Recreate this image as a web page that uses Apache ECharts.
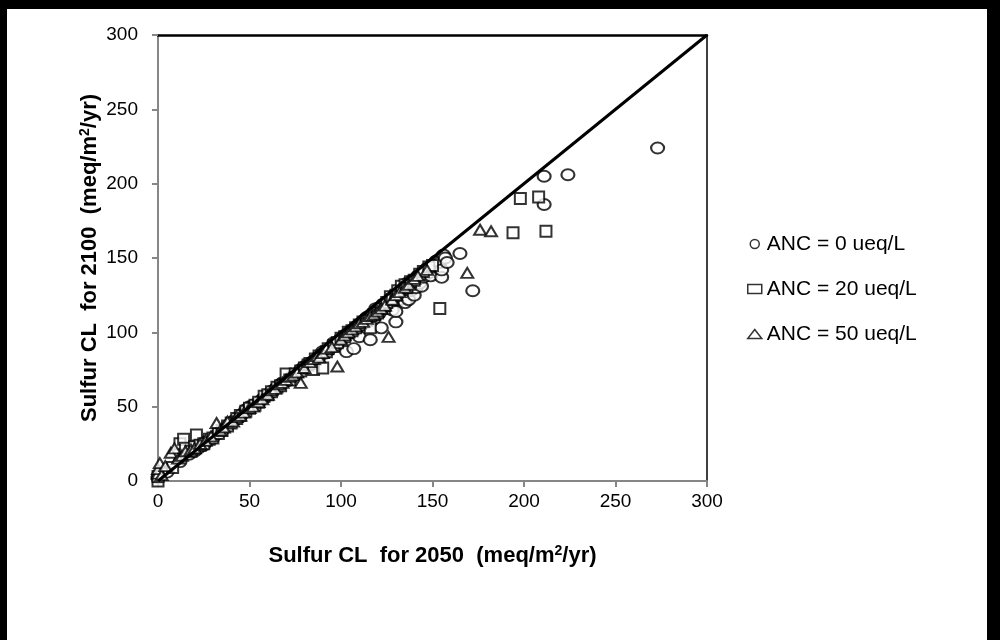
<!DOCTYPE html>
<html>
<head>
<meta charset="utf-8">
<script src="https://cdn.jsdelivr.net/npm/echarts@6/dist/echarts.min.js"></script>
<style>
html,body{margin:0;padding:0;background:#fff;}
#c{width:1000px;height:640px;}
</style>
</head>
<body>
<div id="c"></div>
<script>
// ---- data (x = Sulfur CL 2050, y = Sulfur CL 2100) ----
const seriesNames = ['ANC = 0 ueq/L', 'ANC = 20 ueq/L', 'ANC = 50 ueq/L'];
const axisTicks = [0, 50, 100, 150, 200, 250, 300];
const anc0 = [
  [0,2],[5,6],[12,13],[17,18],[20,20],[22,22],[25,24],[27,27],[30,29],[33,32],[35,34],[38,37],
  [40,39],[42,41],[44,43],[46,45],[48,48],[50,50],[52,51],[55,53],[57,55],[58,56],[60,58],
  [62,60],[63,61],[65,63],[67,65],[68,66],[70,67],[72,69],[74,71],[75,72],[77,73],[78,75],
  [80,77],[82,78],[84,80],[85,80],[87,82],[88,84],[90,87],[91,86],[93,88],[95,90],[96,93],
  [98,92],[100,96],[102,98],[103,87],[104,99],[106,101],[107,89],[108,102],[110,97],[111,105],
  [112,106],[114,110],[115,108],[116,95],[117,112],[118,109],[119,116],[120,114],[121,113],
  [122,103],[123,119],[124,117],[126,118],[127,121],[128,115],[129,125],[130,107],[130,114],
  [132,122],[133,127],[135,120],[136,133],[137,122],[138,128],[139,135],[140,125],[141,130],
  [142,138],[143,133],[144,131],[145,137],[146,141],[147,143],[148,140],[149,138],[150,145],
  [152,148],[154,147],[155,137],[155,142],[156,152],[157,150],[158,147],[165,153],[172,128],
  [211,205],[224,206],[211,186],[273,224]
];
const anc20 = [
  [0,0],[0,3],[8,9],[12,25],[14,28],[15,22],[18,20],[20,23],[21,31],[23,24],[25,25],[28,28],
  [30,29],[33,32],[35,34],[38,37],[40,39],[43,42],[45,44],[48,47],[50,49],[53,51],[55,53],
  [58,57],[60,58],[62,60],[65,63],[67,64],[70,72],[72,68],[75,72],[78,74],[80,76],[82,78],
  [83,79],[85,75],[86,82],[88,84],[90,76],[92,87],[93,89],[96,91],[98,93],[100,96],[102,97],
  [104,100],[106,101],[108,103],[110,105],[112,107],[114,108],[116,103],[118,112],[120,113],
  [122,116],[124,118],[125,120],[127,124],[128,122],[130,125],[131,128],[133,131],[135,132],
  [136,130],[138,134],[140,135],[143,139],[145,141],[148,144],[150,145],[154,116],
  [194,167],[198,190],[208,191],[212,168]
];
const anc50 = [
  [0,5],[0,8],[1,12],[2,4],[4,10],[7,19],[9,22],[11,15],[13,17],[15,20],[18,21],[20,22],
  [23,25],[26,27],[29,30],[32,39],[34,34],[36,36],[38,40],[41,40],[43,43],[45,44],[47,46],
  [50,49],[52,50],[55,53],[57,55],[60,58],[62,61],[64,62],[66,65],[68,66],[70,68],[72,70],
  [74,71],[76,73],[78,66],[80,76],[83,80],[85,82],[87,84],[88,83],[90,86],[92,89],[95,90],
  [98,77],[100,95],[102,98],[104,100],[106,102],[108,104],[110,106],[112,107],[114,109],
  [116,111],[118,112],[120,114],[122,116],[124,118],[126,97],[128,122],[130,125],[132,127],
  [135,130],[137,132],[140,136],[142,138],[147,142],[169,140],[176,169],[182,168]
];
const oneToOne = [[0,0],[300,300]];

const chart = echarts.init(document.getElementById('c'));
const font = '"Liberation Sans", Arial, sans-serif';
const gray = '#868686';
const mk = (name, data, symbol, size) => ({
  name, type: 'scatter', data, symbol, symbolSize: size,
  itemStyle: { color: '#fff', borderColor: '#000', borderWidth: 2 },
  z: 3
});
const titleRich = {
  b: { fontSize: 22, fontWeight: 'bold', color: '#000', fontFamily: font },
  s: { fontSize: 14, fontWeight: 'bold', color: '#000', fontFamily: font, padding: [0, 0, 9, 0] }
};
chart.setOption({
  animation: false,
  backgroundColor: '#fff',
  textStyle: { fontFamily: font },
  graphic: [
    { type: 'rect', shape: { x: 0, y: 0, width: 7, height: 640 }, style: { fill: '#000' }, z: 100 },
    { type: 'rect', shape: { x: 0, y: 0, width: 1000, height: 9 }, style: { fill: '#000' }, z: 100 },
    { type: 'rect', shape: { x: 987, y: 0, width: 13, height: 640 }, style: { fill: '#000' }, z: 100 }
  ],
  grid: { left: 158, right: 293, top: 35, bottom: 159 },
  legend: {
    orient: 'vertical', left: 742, top: 228,
    itemWidth: 14, itemHeight: 9, itemGap: 23,
    textStyle: { fontSize: 21, color: '#000', fontFamily: font, lineHeight: 22 },
    data: [
      { name: seriesNames[0], icon: 'circle', itemStyle: { color: '#fff', borderColor: '#000', borderWidth: 1.5 } },
      { name: seriesNames[1], icon: 'rect', itemStyle: { color: '#fff', borderColor: '#000', borderWidth: 1.5 } },
      { name: seriesNames[2], icon: 'triangle', itemStyle: { color: '#fff', borderColor: '#000', borderWidth: 1.5 } }
    ]
  },
  xAxis: [{
    type: 'value', min: 0, max: 300, interval: 50, position: 'bottom',
    axisLine: { show: true, onZero: false, lineStyle: { color: gray, width: 2 } },
    axisTick: { show: true, length: 6, lineStyle: { color: gray, width: 2 } },
    splitLine: { show: false },
    axisLabel: { color: '#000', fontSize: 19, margin: 11, fontFamily: font },
    name: '{b|Sulfur CL  for 2050  (meq/m}{s|2}{b|/yr)}',
    nameLocation: 'middle', nameGap: 63, nameMoveOverlap: false,
    nameTextStyle: { rich: titleRich }
  }, {
    type: 'value', min: 0, max: 300, position: 'top',
    axisLine: { show: true, onZero: false, lineStyle: { color: '#000', width: 2.5 } },
    axisTick: { show: false }, axisLabel: { show: false }, splitLine: { show: false }
  }],
  yAxis: [{
    type: 'value', min: 0, max: 300, interval: 50, position: 'left',
    axisLine: { show: true, onZero: false, lineStyle: { color: gray, width: 2 } },
    axisTick: { show: true, length: 6, lineStyle: { color: gray, width: 2 } },
    splitLine: { show: false },
    axisLabel: { color: '#000', fontSize: 19, margin: 20, fontFamily: font },
    name: '{b|Sulfur CL  for 2100  (meq/m}{s|2}{b|/yr)}',
    nameLocation: 'middle', nameGap: 57, nameMoveOverlap: false,
    nameTextStyle: { rich: titleRich }
  }, {
    type: 'value', min: 0, max: 300, position: 'right',
    axisLine: { show: true, onZero: false, lineStyle: { color: '#000', width: 1.5 } },
    axisTick: { show: false }, axisLabel: { show: false }, splitLine: { show: false }
  }],
  series: [
    mk(seriesNames[0], anc0, 'circle', [13, 11]),
    mk(seriesNames[1], anc20, 'rect', [11, 11]),
    mk(seriesNames[2], anc50, 'triangle', [12, 10]),
    {
      name: '1:1', type: 'line', data: oneToOne, symbol: 'none',
      lineStyle: { color: '#000', width: 3 }, z: 4, silent: true
    }
  ]
});
</script>
</body>
</html>
